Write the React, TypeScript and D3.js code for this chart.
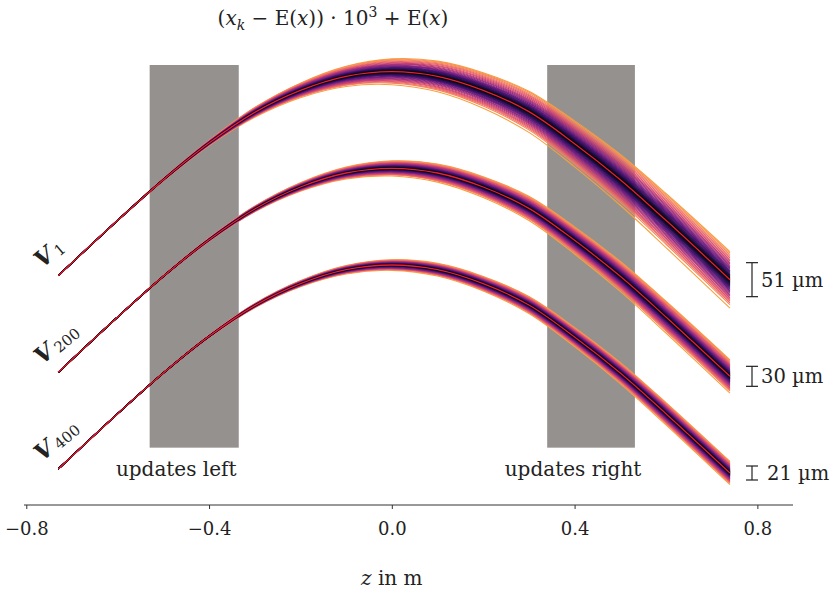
import React, { useEffect, useRef } from "react";
import * as d3 from "d3";

const zGrid = [-0.73, -0.6, -0.5, -0.4, -0.3, -0.2, -0.1, 0, 0.1, 0.2, 0.3, 0.4, 0.5, 0.6, 0.74];
// E(x) of the V_1 bundle, display units (1 unit = 1 µm deviation after x10^3)
const meanTop = [344, 427, 488, 543, 589, 622, 643, 650, 643, 622, 590, 542, 488, 427, 338];
// half width of the dense part of the V_1 bundle at the same z
const spreadTop = [0, 0.3, 1.2, 3, 6, 9, 12.5, 16, 19, 22, 25.5, 28.5, 31.5, 33.5, 35];

const bundleNames = ["1", "200", "400"];
const bundleShift = [0, -145, -290];
const bundleSpreadUm = [51, 30, 21];
const barLabels = ["51 µm", "30 µm", "21 µm"];
const barLabelDx = [0, 0, 6];

// relative deviation of every ensemble member (1 = edge of the dense band)
const members = [
  0.02, 0.05, 0.08, 0.11, 0.14, 0.17, 0.2, 0.23, 0.27, 0.31, 0.35, 0.39, 0.44, 0.49, 0.54,
  0.6, 0.66, 0.72, 0.79, 0.86, 0.93, 1.0, 1.07, 1.14, 1.2,
  -0.01, -0.04, -0.07, -0.1, -0.13, -0.16, -0.19, -0.22, -0.26, -0.3, -0.34, -0.38, -0.43,
  -0.48, -0.53, -0.59, -0.65, -0.71, -0.78, -0.85, -0.92, -0.99, -1.07, -1.22,
];

const xTicks = [-0.8, -0.4, 0.0, 0.4, 0.8];
const zoneLabels = ["updates left", "updates right"];
const zoneStart = [-0.53, 0.34];
const zoneEnd = [-0.335, 0.532];
const zoneBottom = 86;
const zoneTop = 660;

const FONT = "DejaVu Serif";

const App = () => {
  const ref = useRef<SVGSVGElement>(null);

  useEffect(() => {
    const width = 831;
    const height = 594;
    const svg = d3.select(ref.current).html("");
    svg.attr("width", width).attr("height", height);

    const x = d3.scaleLinear().domain([-0.805, 0.878]).range([24, 793]);
    const y = d3.scaleLinear().domain([0, 660]).range([505, 65]);

    const color = d3.interpolateRgbBasis([
      "#000004", "#1c1044", "#4f127b", "#812581", "#b5367a", "#e55064", "#f7866a", "#f7a23c",
    ]);

    // update zones
    svg.selectAll(".zone")
      .data(zoneLabels)
      .join("rect")
      .attr("x", (d, i) => x(zoneStart[i]))
      .attr("width", (d, i) => x(zoneEnd[i]) - x(zoneStart[i]))
      .attr("y", y(zoneTop))
      .attr("height", y(zoneBottom) - y(zoneTop))
      .attr("fill", "#95918f");

    svg.selectAll(".zoneLabel")
      .data(zoneLabels)
      .join("text")
      .attr("x", (d, i) => (x(zoneStart[i]) + x(zoneEnd[i])) / 2 - 18)
      .attr("y", 476)
      .attr("text-anchor", "middle")
      .attr("font-family", FONT)
      .attr("font-size", 20)
      .attr("fill", "#222")
      .text(d => d);

    const line = d3.line<number>()
      .x((d, j) => x(zGrid[j]))
      .y(d => y(d))
      .curve(d3.curveCatmullRom.alpha(0.5));

    const maxAbs = d3.max(members, m => Math.abs(m)) as number;
    const order = members.slice().sort((a, b) => Math.abs(b) - Math.abs(a));

    bundleNames.forEach((name, b) => {
      const f = bundleSpreadUm[b] / bundleSpreadUm[0];
      const g = svg.append("g");

      g.selectAll("path")
        .data(order)
        .join("path")
        .attr("d", m => line(meanTop.map((v, j) => v + bundleShift[b] + m * spreadTop[j] * f)))
        .attr("fill", "none")
        .attr("stroke", m => color(Math.abs(m) / maxAbs))
        .attr("stroke-width", 1.1);

      g.append("path")
        .attr("d", line(meanTop.map(v => v + bundleShift[b])))
        .attr("fill", "none")
        .attr("stroke", "#e8202a")
        .attr("stroke-width", 1.3);

      // scale bar at the right end
      const last = meanTop.length - 1;
      const yc = y(meanTop[last] + bundleShift[b]);
      const half = (y(0) - y(bundleSpreadUm[b])) / 2;
      const bx = 752;
      const bar = svg.append("g").attr("stroke", "#222").attr("stroke-width", 1.2);
      bar.append("line").attr("x1", bx).attr("x2", bx).attr("y1", yc - half).attr("y2", yc + half);
      bar.append("line").attr("x1", bx - 6).attr("x2", bx + 6).attr("y1", yc - half).attr("y2", yc - half);
      bar.append("line").attr("x1", bx - 6).attr("x2", bx + 6).attr("y1", yc + half).attr("y2", yc + half);
      svg.append("text")
        .attr("x", bx + 9 + barLabelDx[b])
        .attr("y", yc + 7)
        .attr("font-family", FONT)
        .attr("font-size", 19.5)
        .attr("fill", "#222")
        .text(barLabels[b]);

      // V label along the rising start
      const sx = x(zGrid[0]);
      const sy = y(meanTop[0] + bundleShift[b]);
      const t = svg.append("text")
        .attr("transform", `translate(${sx - 16},${sy - 7}) rotate(-40)`)
        .attr("font-family", FONT)
        .attr("fill", "#222");
      t.append("tspan").attr("font-weight", "bold").attr("font-style", "italic").attr("font-size", 23).text("V");
      t.append("tspan").attr("font-size", 15).attr("dx", 3).attr("dy", 2).text(name);
    });

    // x axis
    const axis = svg.append("g")
      .attr("transform", `translate(0,505)`)
      .call(d3.axisBottom(x).tickValues(xTicks).tickSize(4).tickFormat(d => d3.format(".1f")(d as number).replace("-", "\u2212")));
    axis.select(".domain").attr("stroke", "#333").attr("d", `M${x.range()[0]},0H${x.range()[1]}`);
    axis.selectAll(".tick line").attr("stroke", "#333");
    axis.selectAll(".tick text")
      .attr("font-family", FONT)
      .attr("font-size", 18)
      .attr("fill", "#222")
      .attr("dy", "1.3em");

    const xl = svg.append("text")
      .attr("x", x(0))
      .attr("y", 585)
      .attr("text-anchor", "middle")
      .attr("font-family", FONT)
      .attr("font-size", 20)
      .attr("fill", "#222");
    xl.append("tspan").attr("font-style", "italic").text("z");
    xl.append("tspan").text(" in m");

    // title
    const title = svg.append("text")
      .attr("x", 333)
      .attr("y", 25)
      .attr("text-anchor", "middle")
      .attr("font-family", FONT)
      .attr("font-size", 20)
      .attr("fill", "#222");
    title.append("tspan").text("(");
    title.append("tspan").attr("font-style", "italic").text("x");
    title.append("tspan").attr("font-style", "italic").attr("font-size", 14).attr("dy", 5).text("k");
    title.append("tspan").attr("dy", -5).text(" \u2212 E(");
    title.append("tspan").attr("font-style", "italic").text("x");
    title.append("tspan").text(")) \u00b7 10");
    title.append("tspan").attr("font-size", 14).attr("dy", -8).text("3");
    title.append("tspan").attr("dy", 8).text(" + E(");
    title.append("tspan").attr("font-style", "italic").text("x");
    title.append("tspan").text(")");
  }, []);

  return (
    <div>
      <svg ref={ref} style={{ position: "absolute", left: 0, top: 0 }}></svg>
    </div>
  );
};

export default App;
